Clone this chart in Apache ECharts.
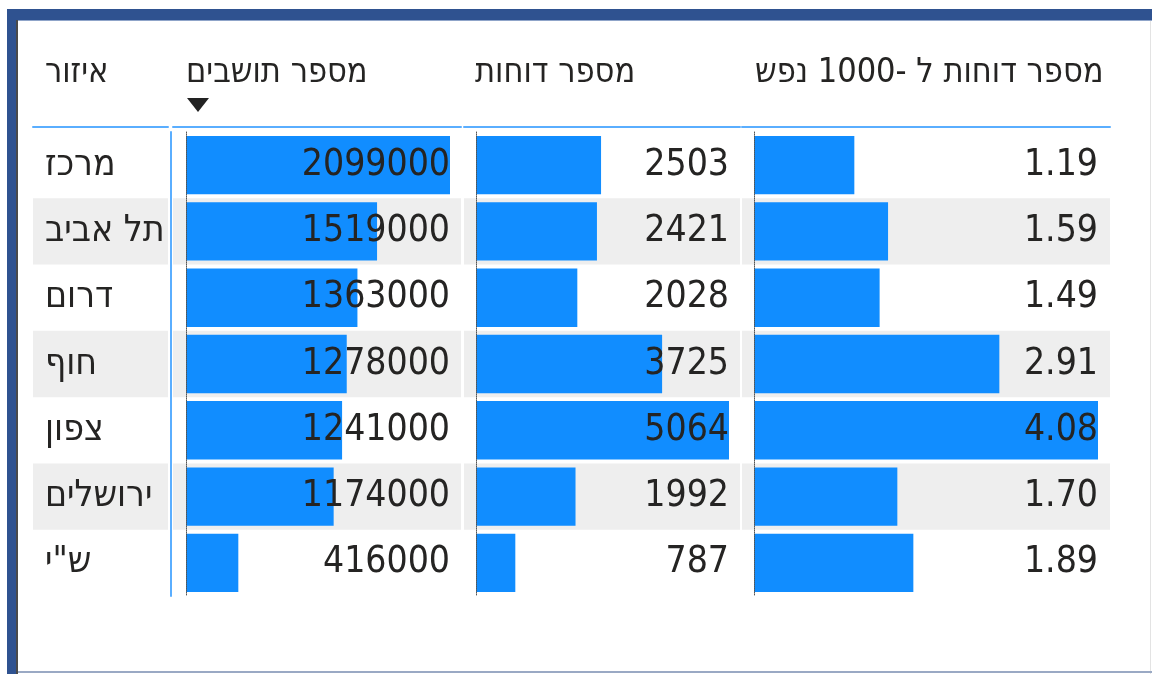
<!DOCTYPE html>
<html>
<head>
<meta charset="utf-8">
<script src="https://cdn.jsdelivr.net/npm/echarts@6/dist/echarts.min.js"></script>
<style>
html,body{margin:0;padding:0;background:#fff;}
#c{width:1152px;height:674px;}
</style>
</head>
<body>
<div id="c"></div>
<script>
const regions = ['מרכז','תל אביב','דרום','חוף','צפון','ירושלים','ש"י'];
const population = [2099000,1519000,1363000,1278000,1241000,1174000,416000];
const reports = [2503,2421,2028,3725,5064,1992,787];
const per1000 = [1.19,1.59,1.49,2.91,4.08,1.70,1.89];
const headers = ['איזור','מספר תושבים','מספר דוחות','מספר דוחות ל -1000 נפש'];

const FONT = "'DejaVu Sans Condensed', 'Liberation Sans', sans-serif";
const TXT = '#252423';
const FS = 37;
const HFS = 34;
const BAR = '#118DFF';
const BAND = '#EEEEEE';
const HLINE = '#5AAEFF';
const TOP = 132, H = 464;

// background band grids: [left, width]
const bands = [[33,135],[173,288],[464,276],[742,368]];
// bar grids: [left, width]
const bars = [[186,264],[476,253],[754,344]];
const cols = [
  {vals: population, fmt: v => String(v)},
  {vals: reports, fmt: v => String(v)},
  {vals: per1000, fmt: v => v.toFixed(2)}
];

const grid = [], xAxis = [], yAxis = [], series = [];
bands.forEach((b, i) => {
  grid.push({left: b[0], width: b[1], top: TOP, height: H});
  xAxis.push({type:'value', gridIndex: grid.length-1, position:'top', offset:5,
    axisLine:{show:true, onZero:false, lineStyle:{color:HLINE, width:2}},
    axisTick:{show:false}, axisLabel:{show:false}, splitLine:{show:false}, min:0, max:1});
  yAxis.push({type:'category', gridIndex: grid.length-1, inverse:true, data: regions,
    axisLine:{show:false}, axisTick:{show:false},
    axisLabel: i === 0 ? {show:true, inside:true, margin:12, color:TXT, fontSize:FS, fontFamily:FONT, align:'left'} : {show:false},
    splitArea:{show:true, areaStyle:{color:['rgba(0,0,0,0)', BAND]}}, z:1});
  if (i === 0) {
    yAxis.push({type:'category', gridIndex: grid.length-1, inverse:true, data: regions, position:'right', offset:3,
      axisLine:{show:true, lineStyle:{color:HLINE, width:2}}, axisTick:{show:false}, axisLabel:{show:false}});
  }
});
bars.forEach((b, i) => {
  const gi = grid.length;
  grid.push({left: b[0], width: b[1], top: TOP, height: H});
  xAxis.push({type:'value', gridIndex: gi, min:0, max:'dataMax', show:false});
  const yi = yAxis.length;
  yAxis.push({type:'category', gridIndex: gi, inverse:true, data: regions,
    axisLine:{show:true, lineStyle:{color:'#555', width:1, type:'dotted'}},
    axisTick:{show:false}, axisLabel:{show:false}, z:4});
  yAxis.push({type:'category', gridIndex: gi, inverse:true, data: regions, position:'right',
    axisLine:{show:false}, axisTick:{show:false},
    axisLabel:{show:true, inside:true, margin:0, color:TXT, fontSize:FS, fontFamily:FONT,
      formatter: (v, idx) => cols[i].fmt(cols[i].vals[idx])}, z:5});
  series.push({type:'bar', xAxisIndex: xAxis.length-1, yAxisIndex: yi, data: cols[i].vals,
    barCategoryGap:'12%', itemStyle:{color:BAR}, silent:true, z:2});
});

const titleX = [45, 186, 475, 755];
const title = headers.map((t, i) => ({text:t, left:titleX[i], top:56, padding:0,
  textStyle:{color:TXT, fontSize:HFS, fontWeight:'normal', fontFamily:FONT}}));

const chart = echarts.init(document.getElementById('c'), null, {renderer:'canvas'});
chart.setOption({
  animation:false,
  backgroundColor:'#fff',
  title, grid, xAxis, yAxis, series,
  graphic:[
    {type:'rect', shape:{x:7,y:9,width:1145,height:11}, style:{fill:'#2F5290'}},
    {type:'rect', shape:{x:7,y:20,width:1145,height:1}, style:{fill:'#8FA4C9'}},
    {type:'rect', shape:{x:7,y:9,width:9,height:665}, style:{fill:'#2F5290'}},
    {type:'rect', shape:{x:16,y:20,width:2,height:654}, style:{fill:'#4A4A4A'}},
    {type:'rect', shape:{x:1150,y:21,width:1,height:653}, style:{fill:'#E3E3E3'}},
    {type:'rect', shape:{x:18,y:671,width:1134,height:2}, style:{fill:'#9AA9C4'}},
    {type:'polygon', shape:{points:[[187,98],[209,98],[198,112]]}, style:{fill:'#222'}}
  ]
});
</script>
</body>
</html>
